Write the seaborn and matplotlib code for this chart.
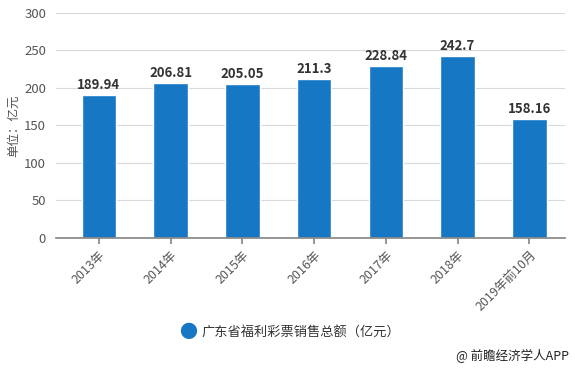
import pandas as pd
import matplotlib.pyplot as plt
import seaborn as sns

# 数据
years = ['2013年', '2014年', '2015年', '2016年', '2017年', '2018年', '2019年前10月']
sales = [189.94, 206.81, 205.05, 211.3, 228.84, 242.7, 158.16]
labels = ['189.94', '206.81', '205.05', '211.3', '228.84', '242.7', '158.16']

df = pd.DataFrame({'year': years, 'sales': sales})

sns.set_theme(style='white')
plt.rcParams['font.family'] = ['Noto Sans CJK SC', 'DejaVu Sans']

fig = plt.figure(figsize=(5.75, 3.69), dpi=100)
ax = fig.add_axes([0.097, 0.355, 0.886, 0.61])

bar_color = '#1677c4'
sns.barplot(data=df, x='year', y='sales', color=bar_color, width=0.48,
            saturation=1, ax=ax)

# 数值标签
for i, (v, t) in enumerate(zip(sales, labels)):
    ax.text(i, v + 4, t, ha='center', va='bottom', fontsize=9.5,
            fontweight='bold', color='#333333')

ax.set_xlim(-0.6, 6.5)
ax.set_ylim(0, 300)
ax.set_yticks(range(0, 301, 50))
ax.yaxis.grid(True, color='#d9d9d9', linewidth=0.8)
ax.set_axisbelow(True)
for s in ['top', 'right', 'left']:
    ax.spines[s].set_visible(False)
ax.spines['bottom'].set_color('#888888')
ax.tick_params(axis='x', length=4, color='#888888', bottom=True, labelsize=9,
               labelcolor='#555555', rotation=45)
ax.tick_params(axis='y', length=0, labelsize=9.5, labelcolor='#555555', pad=7)
for lbl in ax.get_xticklabels():
    lbl.set_ha('right')
    lbl.set_rotation_mode('anchor')
ax.set_xlabel('')
ax.set_ylabel('单位：亿元', fontsize=9, color='#555555', labelpad=3)

# 图例
fig.text(0.327, 0.098, '●', fontsize=13, color=bar_color, ha='center', va='center')
fig.text(0.35, 0.098, '广东省福利彩票销售总额（亿元）', fontsize=9.5, color='#333333',
         ha='left', va='center')

# 来源
fig.text(0.99, 0.035, '@ 前瞻经济学人APP', fontsize=9, color='#222222',
         ha='right', va='center')

plt.savefig('out.png', dpi=100)
